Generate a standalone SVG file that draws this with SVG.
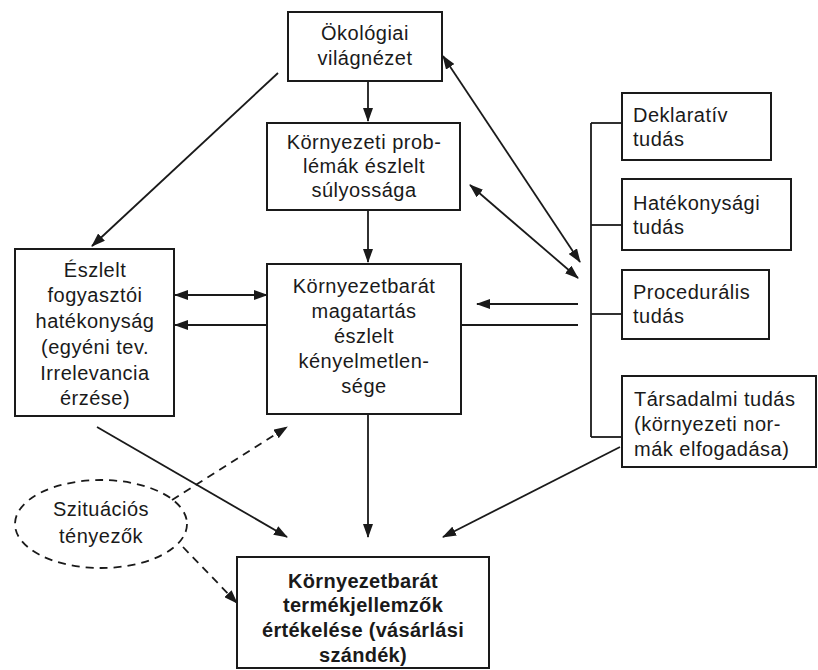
<svg xmlns="http://www.w3.org/2000/svg" width="818" height="670" viewBox="0 0 818 670">
<style>
.box{fill:#fff;stroke:#1a1a1a;stroke-width:2}
.t{font-family:"Liberation Sans",Arial,sans-serif;font-size:20px;fill:#1a1a1a;letter-spacing:0.5px}
.c{text-anchor:middle}
.b{font-weight:bold;font-size:20px;letter-spacing:0.3px}
.ln{stroke:#1a1a1a;stroke-width:1.8;fill:none}
.ar{marker-end:url(#ah)}
.dar{marker-end:url(#ah);marker-start:url(#ah)}
.dash{stroke-dasharray:8 6}
</style>
<defs>
<marker id="ah" markerUnits="userSpaceOnUse" markerWidth="14" markerHeight="10" refX="13" refY="5" orient="auto-start-reverse">
<path d="M0,0 L14,5 L0,10 z" fill="#1a1a1a"/>
</marker>
</defs>
<rect width="818" height="670" fill="#fff"/>
<g id="connectors">
<line class="ln" x1="591" y1="123" x2="591" y2="437"/>
<line class="ln" x1="591" y1="123" x2="622" y2="123"/>
<line class="ln" x1="591" y1="225" x2="622" y2="225"/>
<line class="ln" x1="591" y1="314" x2="622" y2="314"/>
<line class="ln" x1="591" y1="437" x2="622" y2="437"/>
<line class="ln dar" x1="443" y1="56" x2="580" y2="262"/>
<line class="ln dar" x1="470" y1="185" x2="578" y2="278"/>
<line class="ln ar" x1="578" y1="304" x2="477" y2="304"/>
<line class="ln" x1="578" y1="325" x2="461" y2="325"/>
<line class="ln ar" x1="267" y1="325" x2="175" y2="325"/>
<line class="ln dar" x1="175" y1="295" x2="267" y2="295"/>
<line class="ln ar" x1="278" y1="73" x2="92" y2="246"/>
<line class="ln ar" x1="368" y1="81" x2="368" y2="121"/>
<line class="ln ar" x1="368" y1="210" x2="368" y2="262"/>
<line class="ln ar" x1="368" y1="414" x2="368" y2="537"/>
<line class="ln ar" x1="97" y1="427" x2="287" y2="537"/>
<line class="ln ar" x1="620" y1="447" x2="443" y2="537"/>
<line class="ln ar dash" x1="172" y1="500" x2="287" y2="427"/>
<line class="ln ar dash" x1="183" y1="547" x2="237" y2="603"/>
</g>
<g id="okologiai">
<rect class="box" x="288" y="12" width="154" height="69"/>
<text class="t c" x="365" y="40">Ökológiai</text>
<text class="t c" x="365" y="65">világnézet</text>
</g>
<g id="problemak">
<rect class="box" x="267" y="123" width="193" height="87"/>
<text class="t c" x="364" y="149">Környezeti prob-</text>
<text class="t c" x="364" y="173">lémák észlelt</text>
<text class="t c" x="364" y="197">súlyossága</text>
</g>
<g id="hatekonysag">
<rect class="box" x="15" y="249" width="159" height="167"/>
<text class="t c" x="95" y="277">Észlelt</text>
<text class="t c" x="95" y="302">fogyasztói</text>
<text class="t c" x="95" y="328">hatékonyság</text>
<text class="t c" x="95" y="354">(egyéni tev.</text>
<text class="t c" x="95" y="380">Irrelevancia</text>
<text class="t c" x="95" y="405">érzése)</text>
</g>
<g id="kenyelmetlenseg">
<rect class="box" x="267" y="264" width="194" height="150"/>
<text class="t c" x="364" y="293">Környezetbarát</text>
<text class="t c" x="364" y="318">magatartás</text>
<text class="t c" x="364" y="343">észlelt</text>
<text class="t c" x="364" y="368">kényelmetlen-</text>
<text class="t c" x="364" y="393">sége</text>
</g>
<g id="deklarativ">
<rect class="box" x="622" y="93" width="149" height="67"/>
<text class="t" x="633" y="122">Deklaratív</text>
<text class="t" x="633" y="146">tudás</text>
</g>
<g id="hatekonysagi">
<rect class="box" x="622" y="179" width="169" height="71"/>
<text class="t" x="633" y="210">Hatékonysági</text>
<text class="t" x="633" y="234">tudás</text>
</g>
<g id="proceduralis">
<rect class="box" x="622" y="270" width="147" height="69"/>
<text class="t" x="633" y="299">Procedurális</text>
<text class="t" x="633" y="323">tudás</text>
</g>
<g id="tarsadalmi">
<rect class="box" x="622" y="376" width="194" height="91"/>
<text class="t" x="634" y="406">Társadalmi tudás</text>
<text class="t" x="634" y="431">(környezeti nor-</text>
<text class="t" x="634" y="456">mák elfogadása)</text>
</g>
<g id="szituacios">
<ellipse cx="101" cy="524" rx="86" ry="44" fill="none" stroke="#1a1a1a" stroke-width="1.8" stroke-dasharray="8 6"/>
<text class="t c" x="101" y="516">Szituációs</text>
<text class="t c" x="101" y="543">tényezők</text>
</g>
<g id="termekjellemzok">
<rect class="box" x="237" y="557" width="252" height="111"/>
<text class="t c b" x="363" y="588">Környezetbarát</text>
<text class="t c b" x="363" y="612">termékjellemzők</text>
<text class="t c b" x="363" y="637">értékelése (vásárlási</text>
<text class="t c b" x="363" y="662">szándék)</text>
</g>
</svg>
